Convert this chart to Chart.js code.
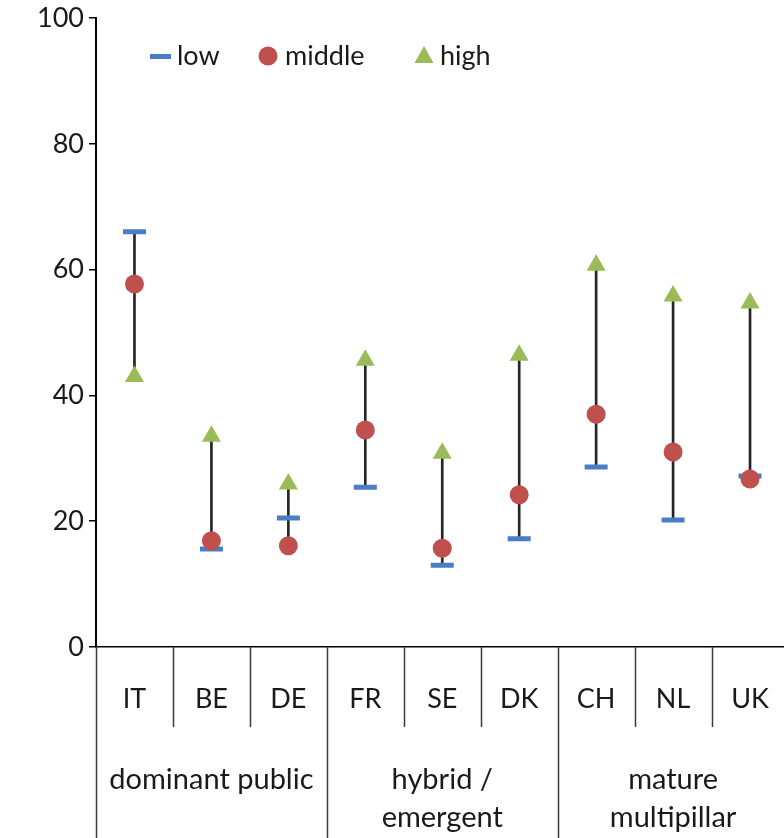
<!DOCTYPE html>
<html>
<head>
<meta charset="utf-8">
<script src="https://cdn.jsdelivr.net/npm/chart.js@4.4.1/dist/chart.umd.min.js"></script>
<style>
  html, body { margin: 0; padding: 0; background: #fff; overflow: hidden; }
  #wrap { width: 805px; height: 838px; position: relative; }
</style>
</head>
<body>
<div id="wrap"><canvas id="myChart"></canvas></div>
<script>
const countries = ['IT', 'BE', 'DE', 'FR', 'SE', 'DK', 'CH', 'NL', 'UK'];
const groups = [
	{ label: ['dominant public'], from: 0, to: 2 },
	{ label: ['hybrid /', 'emergent'], from: 3, to: 5 },
	{ label: ['mature', 'multipillar'], from: 6, to: 8 }
];
const lowData = [66.0, 15.6, 20.5, 25.4, 13.0, 17.2, 28.6, 20.2, 27.2];
const middleData = [57.7, 16.9, 16.1, 34.5, 15.7, 24.2, 37.0, 31.0, 26.7];
const highData = [43.0, 33.5, 25.9, 45.6, 30.8, 46.4, 60.7, 55.8, 54.7];
const yTicks = [0, 20, 40, 60, 80, 100];

const FONT = 'Lato, "Open Sans", sans-serif';
const BLUE = '#4a7ec4';
const RED = '#c0504d';
const GREEN = '#9bbb59';

// high-low line from the smallest to the largest of the three values
const ranges = countries.map((c, i) => {
	const v = [lowData[i], middleData[i], highData[i]];
	return [Math.min(...v), Math.max(...v)];
});

// category labels in two levels plus the legend inside the plot
const extras = {
	id: 'extras',
	afterDraw(chart) {
		const ctx = chart.ctx;
		const x = chart.scales.x;
		const area = chart.chartArea;
		const half = (x.getPixelForValue(1) - x.getPixelForValue(0)) / 2;
		ctx.save();
		ctx.strokeStyle = '#3a3a3a';
		ctx.lineWidth = 1.5;
		ctx.fillStyle = '#1a1a1a';
		ctx.font = '27px ' + FONT;
		ctx.textAlign = 'center';
		ctx.textBaseline = 'middle';

		countries.forEach((c, i) => {
			const px = x.getPixelForValue(i);
			ctx.fillText(c, px, area.bottom + 52);
			if (i > 0) {
				const sx = Math.round(px - half) + 0.5;
				const isGroup = groups.some(g => g.from === i);
				ctx.beginPath();
				ctx.moveTo(sx, area.bottom);
				ctx.lineTo(sx, isGroup ? 838 : area.bottom + 80);
				ctx.stroke();
			}
		});
		// left and right outer lines
		[x.getPixelForValue(0) - half, x.getPixelForValue(countries.length - 1) + half].forEach(px => {
			ctx.beginPath();
			ctx.moveTo(Math.round(px) + 0.5, area.bottom);
			ctx.lineTo(Math.round(px) + 0.5, 838);
			ctx.stroke();
		});

		ctx.font = '29px ' + FONT;
		groups.forEach(g => {
			const cx = (x.getPixelForValue(g.from) + x.getPixelForValue(g.to)) / 2;
			g.label.forEach((line, k) => {
				ctx.fillText(line, cx, area.bottom + 133 + k * 38);
			});
		});

		// legend
		const ly = 56;
		ctx.font = '27px ' + FONT;
		ctx.textAlign = 'left';
		ctx.fillStyle = BLUE;
		ctx.fillRect(150, ly - 2, 21, 5);
		ctx.fillStyle = '#1a1a1a';
		ctx.fillText('low', 177, ly);
		ctx.fillStyle = RED;
		ctx.beginPath();
		ctx.arc(268, ly, 9.5, 0, Math.PI * 2);
		ctx.fill();
		ctx.fillStyle = '#1a1a1a';
		ctx.fillText('middle', 285, ly);
		ctx.fillStyle = GREEN;
		ctx.beginPath();
		ctx.moveTo(424, ly - 10);
		ctx.lineTo(433.5, ly + 7);
		ctx.lineTo(414.5, ly + 7);
		ctx.closePath();
		ctx.fill();
		ctx.fillStyle = '#1a1a1a';
		ctx.fillText('high', 440, ly);
		ctx.restore();
	}
};

const data = {
	labels: countries,
	datasets: [
		{
			type: 'line',
			label: 'low',
			data: lowData,
			showLine: false,
			pointStyle: 'line',
			pointRadius: 11.5,
			pointBorderWidth: 5,
			borderColor: BLUE,
			backgroundColor: BLUE,
			order: 3
		},
		{
			type: 'line',
			label: 'middle',
			data: middleData,
			showLine: false,
			pointStyle: 'circle',
			pointRadius: 9.5,
			pointBorderWidth: 0,
			borderColor: RED,
			backgroundColor: RED,
			order: 2
		},
		{
			type: 'line',
			label: 'high',
			data: highData,
			showLine: false,
			pointStyle: 'triangle',
			pointRadius: 11,
			pointBorderWidth: 0,
			borderColor: GREEN,
			backgroundColor: GREEN,
			order: 1
		},
		{
			type: 'bar',
			label: 'range',
			data: ranges,
			barThickness: 2,
			backgroundColor: '#262626',
			borderWidth: 0,
			order: 10
		}
	]
};

const config = {
	type: 'bar',
	data,
	options: {
		responsive: false,
		animation: false,
		devicePixelRatio: 1,
		layout: { padding: { top: 18, bottom: 191, right: 3, left: 0 } },
		plugins: {
			legend: { display: false },
			tooltip: { enabled: false }
		},
		scales: {
			x: {
				grid: { display: false },
				border: { display: true, color: '#000', width: 1.5 },
				ticks: { display: false },
				afterFit(scale) { scale.height = 0; }
			},
			y: {
				min: 0,
				max: 100,
				afterBuildTicks(scale) { scale.ticks = yTicks.map(v => ({ value: v })); },
				grid: { drawOnChartArea: false, drawTicks: true, tickLength: 7, color: '#000', lineWidth: 1.5 },
				border: { display: true, color: '#000', width: 2 },
				ticks: { color: '#1a1a1a', padding: 5, font: { family: FONT, size: 27 } },
				afterFit(scale) {
					scale.width = 96;
					scale.paddingTop = 0;
					scale.paddingBottom = 0;
				}
			}
		}
	},
	plugins: [extras]
};

const canvas = document.getElementById('myChart');
canvas.width = 805;
canvas.height = 838;
new Chart(canvas, config);
</script>
</body>
</html>
